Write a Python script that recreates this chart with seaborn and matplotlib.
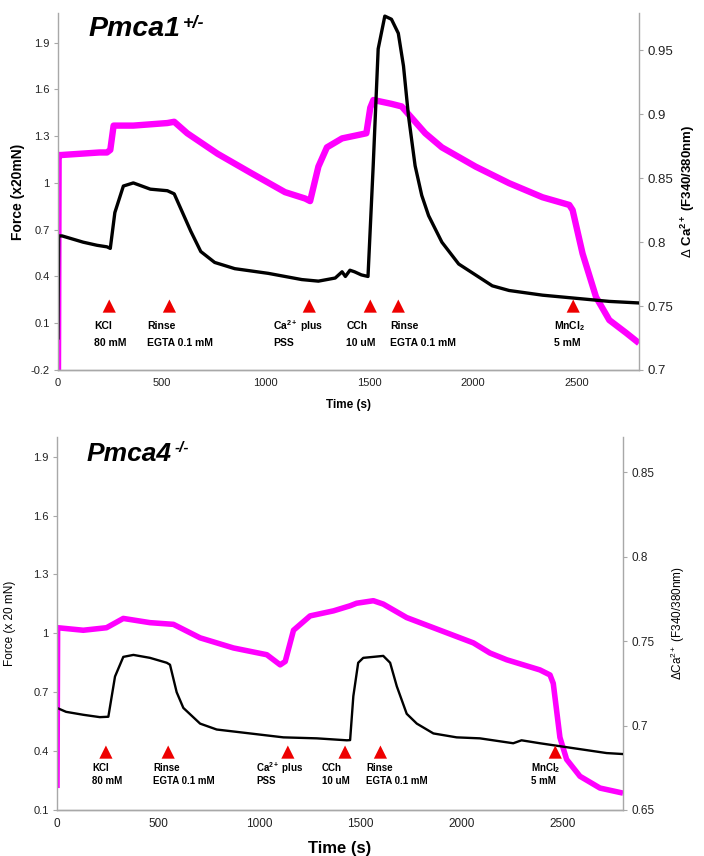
import numpy as np
import pandas as pd
import seaborn as sns
import matplotlib
matplotlib.use('Agg')
import matplotlib.pyplot as plt

sns.set_theme(style='white')
plt.rcParams['font.family'] = ['Liberation Sans', 'DejaVu Sans']
plt.rcParams['mathtext.fontset'] = 'custom'
plt.rcParams['mathtext.rm'] = 'Liberation Sans'
plt.rcParams['mathtext.bf'] = 'Liberation Sans:bold'
plt.rcParams['mathtext.it'] = 'Liberation Sans:italic'
plt.rcParams['text.color'] = 'black'
plt.rcParams['axes.labelcolor'] = 'black'

# ---------------- data: top panel (Pmca1 +/-) ----------------
top_force_t = [0, 3, 20, 121, 188, 236, 252, 274, 315, 363, 445, 527, 560, 600, 640, 688, 755, 852,
               1013, 1094, 1175, 1255, 1336, 1369, 1385, 1407, 1429, 1462, 1494, 1519, 1543, 1575,
               1607, 1640, 1665, 1689, 1721, 1753, 1786, 1850, 1931, 2012, 2093, 2174, 2335, 2496,
               2657, 2800]
top_force_v = [0.0, 0.66, 0.66, 0.62, 0.60, 0.59, 0.58, 0.81, 0.98, 1.00, 0.96, 0.95, 0.93, 0.81, 0.69,
               0.56, 0.49, 0.45, 0.42, 0.40, 0.38, 0.37, 0.39, 0.43, 0.40, 0.44, 0.43, 0.41, 0.40, 1.11,
               1.86, 2.07, 2.05, 1.96, 1.75, 1.43, 1.11, 0.92, 0.79, 0.62, 0.48, 0.41, 0.34, 0.31, 0.28,
               0.26, 0.24, 0.23]
top_ca_t = [0, 3, 15, 200, 236, 252, 268, 363, 527, 560, 623, 769, 930, 1094, 1191, 1215, 1255, 1296,
            1369, 1457, 1486, 1505, 1520, 1607, 1656, 1770, 1850, 2012, 2174, 2335, 2464, 2480, 2528,
            2593, 2657, 2738, 2800]
top_ca_v = [0.70, 0.868, 0.868, 0.870, 0.870, 0.872, 0.891, 0.891, 0.893, 0.894, 0.885, 0.869, 0.854,
            0.839, 0.834, 0.832, 0.859, 0.874, 0.881, 0.884, 0.885, 0.905, 0.911, 0.908, 0.906, 0.885,
            0.874, 0.859, 0.846, 0.835, 0.829, 0.825, 0.791, 0.757, 0.739, 0.729, 0.721]
top_event_t = [247, 537, 1211, 1505, 1640, 2483]
top_label_t = [174, 431, 1036, 1389, 1600, 2391]

# ---------------- data: bottom panel (Pmca4 -/-) ----------------
bot_force_t = [0, 45, 130, 212, 254, 287, 328, 378, 460, 543, 559, 592, 625, 708, 790, 955, 1120, 1285,
               1434, 1450, 1466, 1490, 1515, 1565, 1614, 1648, 1681, 1730, 1780, 1862, 1977, 2092,
               2257, 2298, 2389, 2554, 2719, 2800]
bot_force_v = [0.62, 0.60, 0.585, 0.573, 0.575, 0.78, 0.88, 0.89, 0.875, 0.85, 0.84, 0.70, 0.62, 0.54,
               0.51, 0.49, 0.47, 0.465, 0.455, 0.456, 0.68, 0.85, 0.875, 0.88, 0.885, 0.85, 0.73, 0.59,
               0.54, 0.49, 0.47, 0.465, 0.44, 0.455, 0.44, 0.415, 0.39, 0.385]
bot_ca_t = [0, 3, 130, 245, 328, 460, 576, 708, 873, 1038, 1104, 1129, 1170, 1252, 1368, 1450, 1482,
            1565, 1614, 1730, 1895, 2060, 2142, 2225, 2389, 2439, 2455, 2488, 2521, 2587, 2686, 2800]
bot_ca_v = [0.663, 0.758, 0.7565, 0.758, 0.7635, 0.761, 0.760, 0.752, 0.746, 0.742, 0.736, 0.738,
            0.7565, 0.765, 0.768, 0.771, 0.7725, 0.774, 0.772, 0.764, 0.7565, 0.749, 0.743, 0.739,
            0.733, 0.730, 0.725, 0.693, 0.680, 0.670, 0.663, 0.660]
bot_event_t = [242, 550, 1142, 1425, 1600, 2465]
bot_label_t = [175, 475, 985, 1311, 1530, 2346]

event_line1 = ['KCl', 'Rinse', r'Ca$^{\mathbf{2+}}$ plus', 'CCh', 'Rinse', r'MnCl$_{\mathbf{2}}$']
event_line2 = ['80 mM', 'EGTA 0.1 mM', 'PSS', '10 uM', 'EGTA 0.1 mM', '5 mM']

W, H = 704, 856
fig = plt.figure(figsize=(W / 100, H / 100), dpi=100)

def axes_px(l, r, t, b):
    return fig.add_axes([l / W, 1 - b / H, (r - l) / W, (b - t) / H])

spine_col = '#a8a8a8'
MAG = '#ff00ff'


def panel(ax, ft, fv, ct, cv, ev_t, lab_t, ylim, ylim2, yticks, yticks2, ev_y, lab_y1, lab_y2,
          force_lw, ca_lw, lsize, ltick, rtick, xtick, title, sup, title_size, sup_size,
          ylab, ylab2, lab_bold, xlab_size, ylab_size, ylab2_size, ylab_pad, ylab2_pad):
    ax2 = ax.twinx()
    ax.set_zorder(ax2.get_zorder() + 1)
    ax.patch.set_visible(False)
    sns.lineplot(x=ct, y=cv, ax=ax2, color=MAG, lw=ca_lw, solid_joinstyle='round', solid_capstyle='butt')
    sns.lineplot(x=ft, y=fv, ax=ax, color='black', lw=force_lw)
    sns.scatterplot(x=ev_t, y=[ev_y] * len(ev_t), ax=ax, marker='^', color='#ee0000', s=90,
                    edgecolor='none', zorder=5)
    for x, l1, l2 in zip(lab_t, event_line1, event_line2):
        ax.text(x, lab_y1, l1, fontsize=lsize, fontweight='bold', ha='left', va='center')
        ax.text(x, lab_y2, l2, fontsize=lsize, fontweight='bold', ha='left', va='center')
    ax.set_xlim(0, 2800)
    ax.set_ylim(*ylim)
    ax2.set_ylim(*ylim2)
    ax.set_yticks(yticks)
    ax.set_yticklabels([('%g' % v) for v in yticks], fontsize=ltick, color='#222222')
    ax2.set_yticks(yticks2)
    ax2.set_yticklabels([('%g' % v) for v in yticks2], fontsize=rtick, color='#222222')
    ax.set_xticks([0, 500, 1000, 1500, 2000, 2500])
    ax.set_xticklabels(['0', '500', '1000', '1500', '2000', '2500'], fontsize=xtick, color='#222222')
    for a in (ax, ax2):
        for s in a.spines.values():
            s.set_color(spine_col)
            s.set_linewidth(1.0)
        a.spines['top'].set_visible(False)
        a.tick_params(axis='both', which='both', length=3, color=spine_col, width=0.8, pad=3)
    ax2.spines['left'].set_visible(False)
    ax.spines['right'].set_visible(False)
    ax.set_xlabel('Time (s)', fontsize=xlab_size, fontweight='bold', labelpad=8)
    ax.set_ylabel(ylab, fontsize=ylab_size, fontweight=lab_bold, labelpad=ylab_pad)
    ax2.set_ylabel(ylab2, fontsize=ylab2_size, fontweight=lab_bold, labelpad=ylab2_pad)
    t = ax.text(0.052, 0.935, title, transform=ax.transAxes, fontsize=title_size, fontweight='bold',
                fontstyle='italic', ha='left', va='baseline', color='black')
    fig.canvas.draw()
    bb = t.get_window_extent()
    inv = ax.transAxes.inverted()
    x1, y1 = inv.transform((bb.x1 + 3, bb.y1 + 1))
    ax.text(x1, y1, sup, transform=ax.transAxes, fontsize=sup_size, fontweight='bold',
            fontstyle='italic', ha='left', va='top', color='black')
    return ax2


ax_top = axes_px(58, 639, 13, 370)
panel(ax_top, top_force_t, top_force_v, top_ca_t, top_ca_v, top_event_t, top_label_t,
      ylim=(-0.2, 2.09), ylim2=(0.7, 0.979),
      yticks=[-0.2, 0.1, 0.4, 0.7, 1.0, 1.3, 1.6, 1.9], yticks2=[0.7, 0.75, 0.8, 0.85, 0.9, 0.95],
      ev_y=0.21, lab_y1=0.08, lab_y2=-0.03, force_lw=2.4, ca_lw=4.6, lsize=7.5,
      ltick=8, rtick=9.5, xtick=8, title='Pmca1', sup='+/-', title_size=20.5, sup_size=13,
      ylab='Force (x20mN)', ylab2=r'$\Delta$ Ca$^{\mathbf{2+}}$ (F340/380nm)', lab_bold='bold',
      xlab_size=8.5, ylab_size=10, ylab2_size=9.5, ylab_pad=4, ylab2_pad=4)

ax_bot = axes_px(57, 623, 437, 810)
panel(ax_bot, bot_force_t, bot_force_v, bot_ca_t, bot_ca_v, bot_event_t, bot_label_t,
      ylim=(0.1, 2.0), ylim2=(0.65, 0.871),
      yticks=[0.1, 0.4, 0.7, 1.0, 1.3, 1.6, 1.9], yticks2=[0.65, 0.7, 0.75, 0.8, 0.85],
      ev_y=0.395, lab_y1=0.313, lab_y2=0.247, force_lw=1.7, ca_lw=4.0, lsize=7,
      ltick=8, rtick=8.5, xtick=8.5, title='Pmca4', sup='-/-', title_size=19, sup_size=11,
      ylab='Force (x 20 mN)', ylab2=r'$\Delta$Ca$^{2+}$ (F340/380nm)', lab_bold='normal',
      xlab_size=12, ylab_size=8.5, ylab2_size=8.5, ylab_pad=12, ylab2_pad=10)

fig.savefig('out.png', dpi=100)
